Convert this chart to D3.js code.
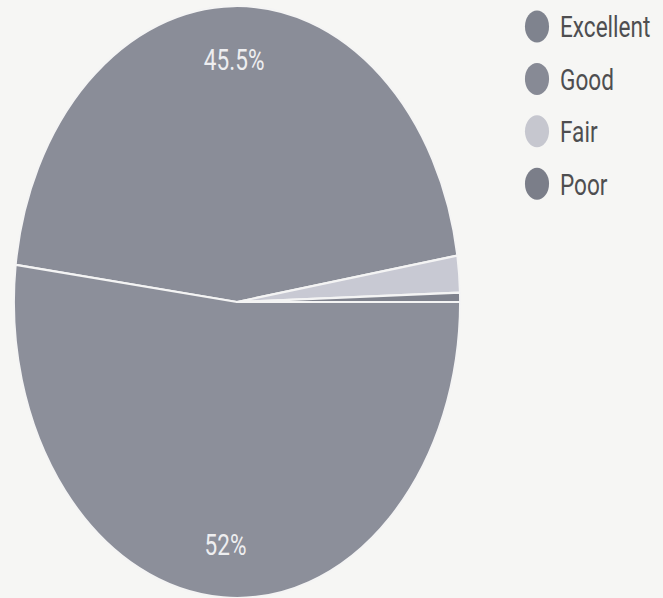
<!DOCTYPE html>
<html>
<head>
<meta charset="utf-8">
<script src="https://cdn.jsdelivr.net/npm/d3@7"></script>
<style>
  body { margin: 0; background: #f6f6f4; }
  svg { display: block; }
</style>
</head>
<body>
<script>
// data
var categories = ["Excellent", "Good", "Fair", "Poor"];
var values = [45.5, 52, 2, 0.5];
var sliceOrder = ["Good", "Excellent", "Fair", "Poor"];
var colors = ["#8a8d98", "#8c8f9a", "#c8c9d3", "#7f828d"];
var dotColors = ["#7f838e", "#878a95", "#c6c7cf", "#7b7e89"];

var width = 663, height = 598;
var squeeze = 0.753;   // the scan is narrower than tall
var radius = 296;
var cx = 237 / squeeze, cy = 302;

var data = categories.map(function(c, i) { return {name: c, value: values[i]}; });

var color = d3.scaleOrdinal().domain(categories).range(colors);
var dotColor = d3.scaleOrdinal().domain(categories).range(dotColors);

var svg = d3.select("body").append("svg")
    .attr("width", width)
    .attr("height", height);

svg.append("rect")
    .attr("width", width)
    .attr("height", height)
    .attr("fill", "#f6f6f4");

var root = svg.append("g")
    .attr("transform", "scale(" + squeeze + ",1)");

var pie = d3.pie()
    .value(function(d) { return d.value; })
    .sort(function(a, b) { return sliceOrder.indexOf(a.name) - sliceOrder.indexOf(b.name); })
    .startAngle(Math.PI / 2)
    .endAngle(Math.PI / 2 + 2 * Math.PI);

var arc = d3.arc().innerRadius(0).outerRadius(radius);
var labelArc = d3.arc().innerRadius(radius * 0.82).outerRadius(radius * 0.82);

var g = root.append("g")
    .attr("transform", "translate(" + cx + "," + cy + ")");

var arcs = pie(data);

g.selectAll(".slice")
    .data(arcs)
  .enter().append("path")
    .attr("class", "slice")
    .attr("d", arc)
    .attr("fill", function(d) { return color(d.data.name); })
    .attr("stroke", "#f4f4f4")
    .attr("stroke-width", 2.2)
    .attr("stroke-linejoin", "round");

// only big slices get a label
g.selectAll(".label")
    .data(arcs.filter(function(d) { return d.data.value > 5; }))
  .enter().append("text")
    .attr("class", "label")
    .attr("transform", function(d) { return "translate(" + labelArc.centroid(d) + ")"; })
    .attr("dy", "0.36em")
    .attr("text-anchor", "middle")
    .style("font-family", "Roboto, sans-serif")
    .style("font-size", "30px")
    .style("fill", "#eeeef0")
    .text(function(d) { return d.data.value + "%"; });

// legend
var legend = root.selectAll(".legend")
    .data(categories)
  .enter().append("g")
    .attr("class", "legend")
    .attr("transform", function(d, i) { return "translate(" + (537 / squeeze) + "," + (26.5 + i * 52.4) + ")"; });

legend.append("circle")
    .attr("r", 16)
    .attr("fill", function(d) { return dotColor(d); });

legend.append("text")
    .attr("x", (560 - 537) / squeeze)
    .attr("dy", "0.36em")
    .style("font-family", "Roboto, sans-serif")
    .style("font-size", "30px")
    .style("fill", "#4e4e50")
    .text(function(d) { return d; });
</script>
</body>
</html>
